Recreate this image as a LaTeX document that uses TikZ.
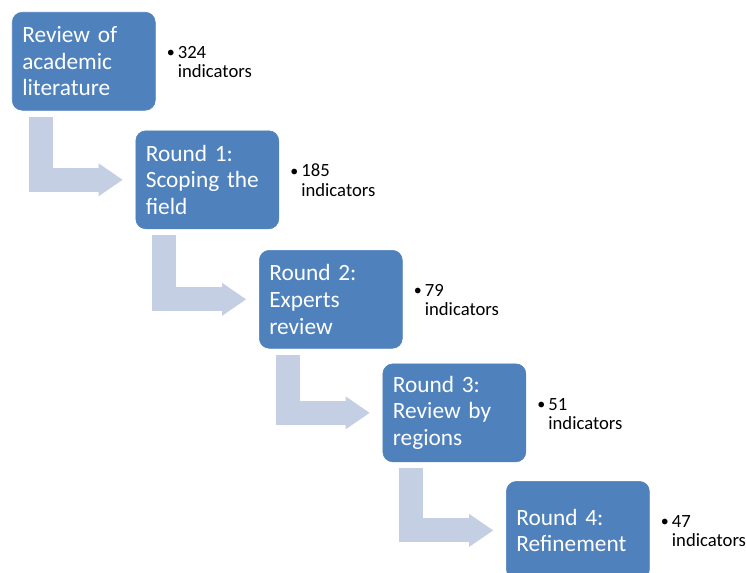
\documentclass[tikz,border=0pt]{standalone}
\usepackage{fontspec}
\setmainfont{Carlito}
\usetikzlibrary{arrows.meta,positioning,calc}
\definecolor{stageblue}{HTML}{4F81BD}
\definecolor{stagearrowfill}{HTML}{C5CFE3}
\tikzset{
  stagebox/.style={fill=stageblue, draw=stageblue, rounded corners=7.5pt, text=white,
    align=left, font=\fontsize{17.5}{20}\selectfont, minimum height=73.5pt,
    text width=92.25pt, inner sep=7.5pt},
  stagearrow/.style={draw=stagearrowfill, line width=18pt,
    -{Triangle[length=18pt, width=24.75pt, line width=0pt]}},
  countnote/.style={font=\fontsize{14}{14.5}\selectfont, inner sep=0pt, align=left}
}
\newcommand{\countitem}[1]{%
  \begin{tabular}{@{}l@{}l@{}}\makebox[8.25pt][l]{\raisebox{0.5pt}{\large\textbullet}} & #1\\ & indicators\end{tabular}}

\begin{document}
\begin{tikzpicture}
    \useasboundingbox (-9pt,9pt) rectangle (550.5pt,-420.75pt);
    \node[stagebox, anchor=north west] (review) at (0,0) {Review of\\academic\\literature};
    \node[stagebox, below right=15pt and -15pt of review] (scoping) {Round 1:\\Scoping the\\field};
    \node[stagebox, below right=15.75pt and -15pt of scoping] (experts) {Round 2:\\Experts\\review};
    \node[stagebox, below right=11.25pt and -15pt of experts] (regions) {Round 3:\\Review by\\regions};
    \node[stagebox, below right=14.25pt and -15pt of regions] (refine) {Round 4:\\Refinement};
    \node[countnote, below right=24.5pt and 8.25pt of review.north east] (reviewcount) {\countitem{324}};
    \node[countnote, below right=24.5pt and 8.25pt of scoping.north east] (scopingcount) {\countitem{185}};
    \node[countnote, below right=24.5pt and 8.25pt of experts.north east] (expertscount) {\countitem{79}};
    \node[countnote, below right=24.5pt and 8.25pt of regions.north east] (regionscount) {\countitem{51}};
    \node[countnote, below right=24.5pt and 8.25pt of refine.north east] (refinecount) {\countitem{47}};
    \draw[stagearrow] ($(review.south west)+(21.4pt,-4.5pt)$) |- ($(scoping.west)+(-9.75pt,0)$);
    \draw[stagearrow] ($(scoping.south west)+(21.4pt,-4.5pt)$) |- ($(experts.west)+(-9.75pt,0)$);
    \draw[stagearrow] ($(experts.south west)+(21.4pt,-4.5pt)$) |- ($(regions.west)+(-9.75pt,0)$);
    \draw[stagearrow] ($(regions.south west)+(21.4pt,-4.5pt)$) |- ($(refine.west)+(-9.75pt,0)$);
  \end{tikzpicture}
\end{document}
